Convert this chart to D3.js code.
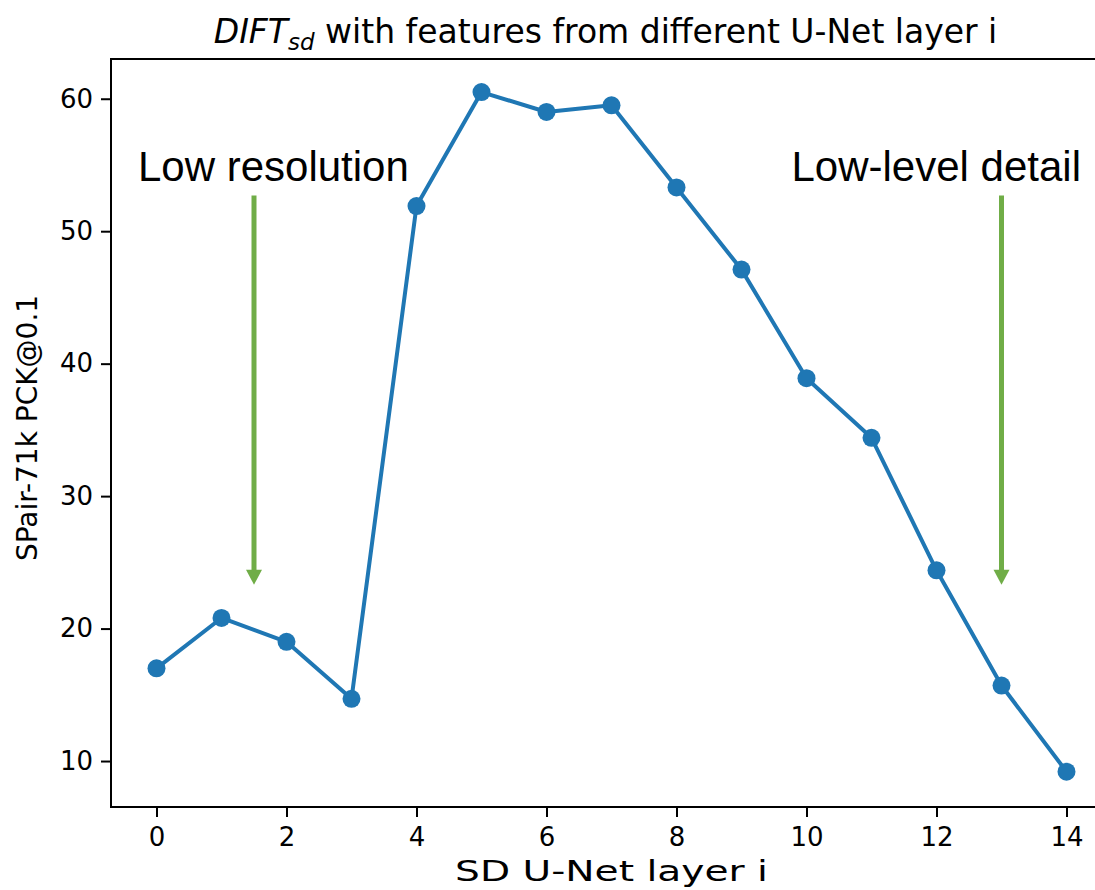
<!DOCTYPE html>
<html>
<head>
<meta charset="utf-8">
<script src="https://cdn.jsdelivr.net/npm/d3@7"></script>
<style>
  html, body { margin: 0; padding: 0; background: #fff; }
  svg { display: block; overflow: hidden; }
</style>
</head>
<body>
<script>
// Data
const layers = [0, 1, 2, 3, 4, 5, 6, 7, 8, 9, 10, 11, 12, 13, 14];
const pck = [17.0, 20.8, 19.0, 14.7, 51.9, 60.5, 59.0, 59.5, 53.3, 47.1, 38.9, 34.4, 24.4, 15.7, 9.2];
const xTicks = [0, 2, 4, 6, 8, 10, 12, 14];
const yTicks = [10, 20, 30, 40, 50, 60];
const notes = ["Low resolution", "Low-level detail"];
const noteLayer = [1.5, 13];

const width = 1095, height = 890;
const margin = {top: 59, left: 111, bottom: 83};
const plotRight = 1112; // right spine falls just outside the crop

const svg = d3.select("body").append("svg")
    .attr("width", width).attr("height", height);

const x = d3.scaleLinear().domain([-0.7, 14.7]).range([margin.left, plotRight]);
const y = d3.scaleLinear().domain([6.53, 63.0]).range([height - margin.bottom, margin.top]);

const blue = "#1f77b4", green = "#70ad47";
const axisFont = "DejaVu Sans, sans-serif";

// frame
svg.append("rect")
    .attr("x", margin.left).attr("y", margin.top)
    .attr("width", plotRight - margin.left)
    .attr("height", height - margin.bottom - margin.top)
    .attr("fill", "none").attr("stroke", "#000").attr("stroke-width", 2);

// axes
const xAxis = svg.append("g")
    .attr("transform", `translate(0,${height - margin.bottom})`)
    .call(d3.axisBottom(x).tickValues(xTicks).tickSize(10).tickPadding(11));
const yAxis = svg.append("g")
    .attr("transform", `translate(${margin.left},0)`)
    .call(d3.axisLeft(y).tickValues(yTicks).tickSize(10).tickPadding(8));

[xAxis, yAxis].forEach(a => {
    a.select(".domain").remove();
    a.selectAll(".tick line").attr("stroke", "#000").attr("stroke-width", 2);
    a.selectAll(".tick text")
        .attr("fill", "#000")
        .style("font-family", axisFont)
        .style("font-size", "26px");
});

// axis labels (the x label is stretched wide in the source image)
svg.append("text")
    .attr("transform", `translate(${(margin.left + plotRight) / 2},881) scale(1.35,1)`)
    .attr("text-anchor", "middle")
    .style("font-family", axisFont).style("font-size", "29px")
    .text("SD U-Net layer i");

svg.append("text")
    .attr("transform", `translate(37,${(margin.top + height - margin.bottom) / 2 - 5}) rotate(-90)`)
    .attr("text-anchor", "middle")
    .style("font-family", axisFont).style("font-size", "28px")
    .text("SPair-71k PCK@0.1");

// title
const title = svg.append("text")
    .attr("x", (margin.left + plotRight) / 2 - 6)
    .attr("y", 43)
    .attr("text-anchor", "middle")
    .style("font-family", axisFont).style("font-size", "33px");
title.append("tspan").style("font-style", "italic").text("DIFT");
title.append("tspan").style("font-style", "italic").style("font-size", "23px")
    .attr("dy", 7).text("sd");
title.append("tspan").attr("dy", -7).text(" with features from different U-Net layer i");

// annotation arrows
const arrows = svg.append("g").attr("class", "notes");
noteLayer.forEach(l => {
    const ax = x(l);
    const top = y(52.7), tip = y(23.3);
    arrows.append("line")
        .attr("x1", ax).attr("x2", ax)
        .attr("y1", top).attr("y2", tip - 12)
        .attr("stroke", green).attr("stroke-width", 5);
    arrows.append("path")
        .attr("d", `M${ax - 8},${tip - 15} L${ax + 8},${tip - 15} L${ax},${tip} Z`)
        .attr("fill", green);
});

arrows.selectAll("text.note")
    .data(notes)
    .join("text")
    .attr("class", "note")
    .attr("x", (d, i) => i === 0 ? 138 : 1081)
    .attr("y", 181)
    .attr("text-anchor", (d, i) => i === 0 ? "start" : "end")
    .style("font-family", "Liberation Sans, Arial, sans-serif")
    .style("font-size", "42px")
    .text(d => d);

// series
const line = d3.line()
    .x((d, i) => x(layers[i]))
    .y(d => y(d));

svg.append("path")
    .datum(pck)
    .attr("fill", "none")
    .attr("stroke", blue)
    .attr("stroke-width", 4)
    .attr("stroke-linejoin", "round")
    .attr("d", line);

svg.append("g").selectAll("circle")
    .data(pck)
    .join("circle")
    .attr("cx", (d, i) => x(layers[i]))
    .attr("cy", d => y(d))
    .attr("r", 9)
    .attr("fill", blue);
</script>
</body>
</html>
